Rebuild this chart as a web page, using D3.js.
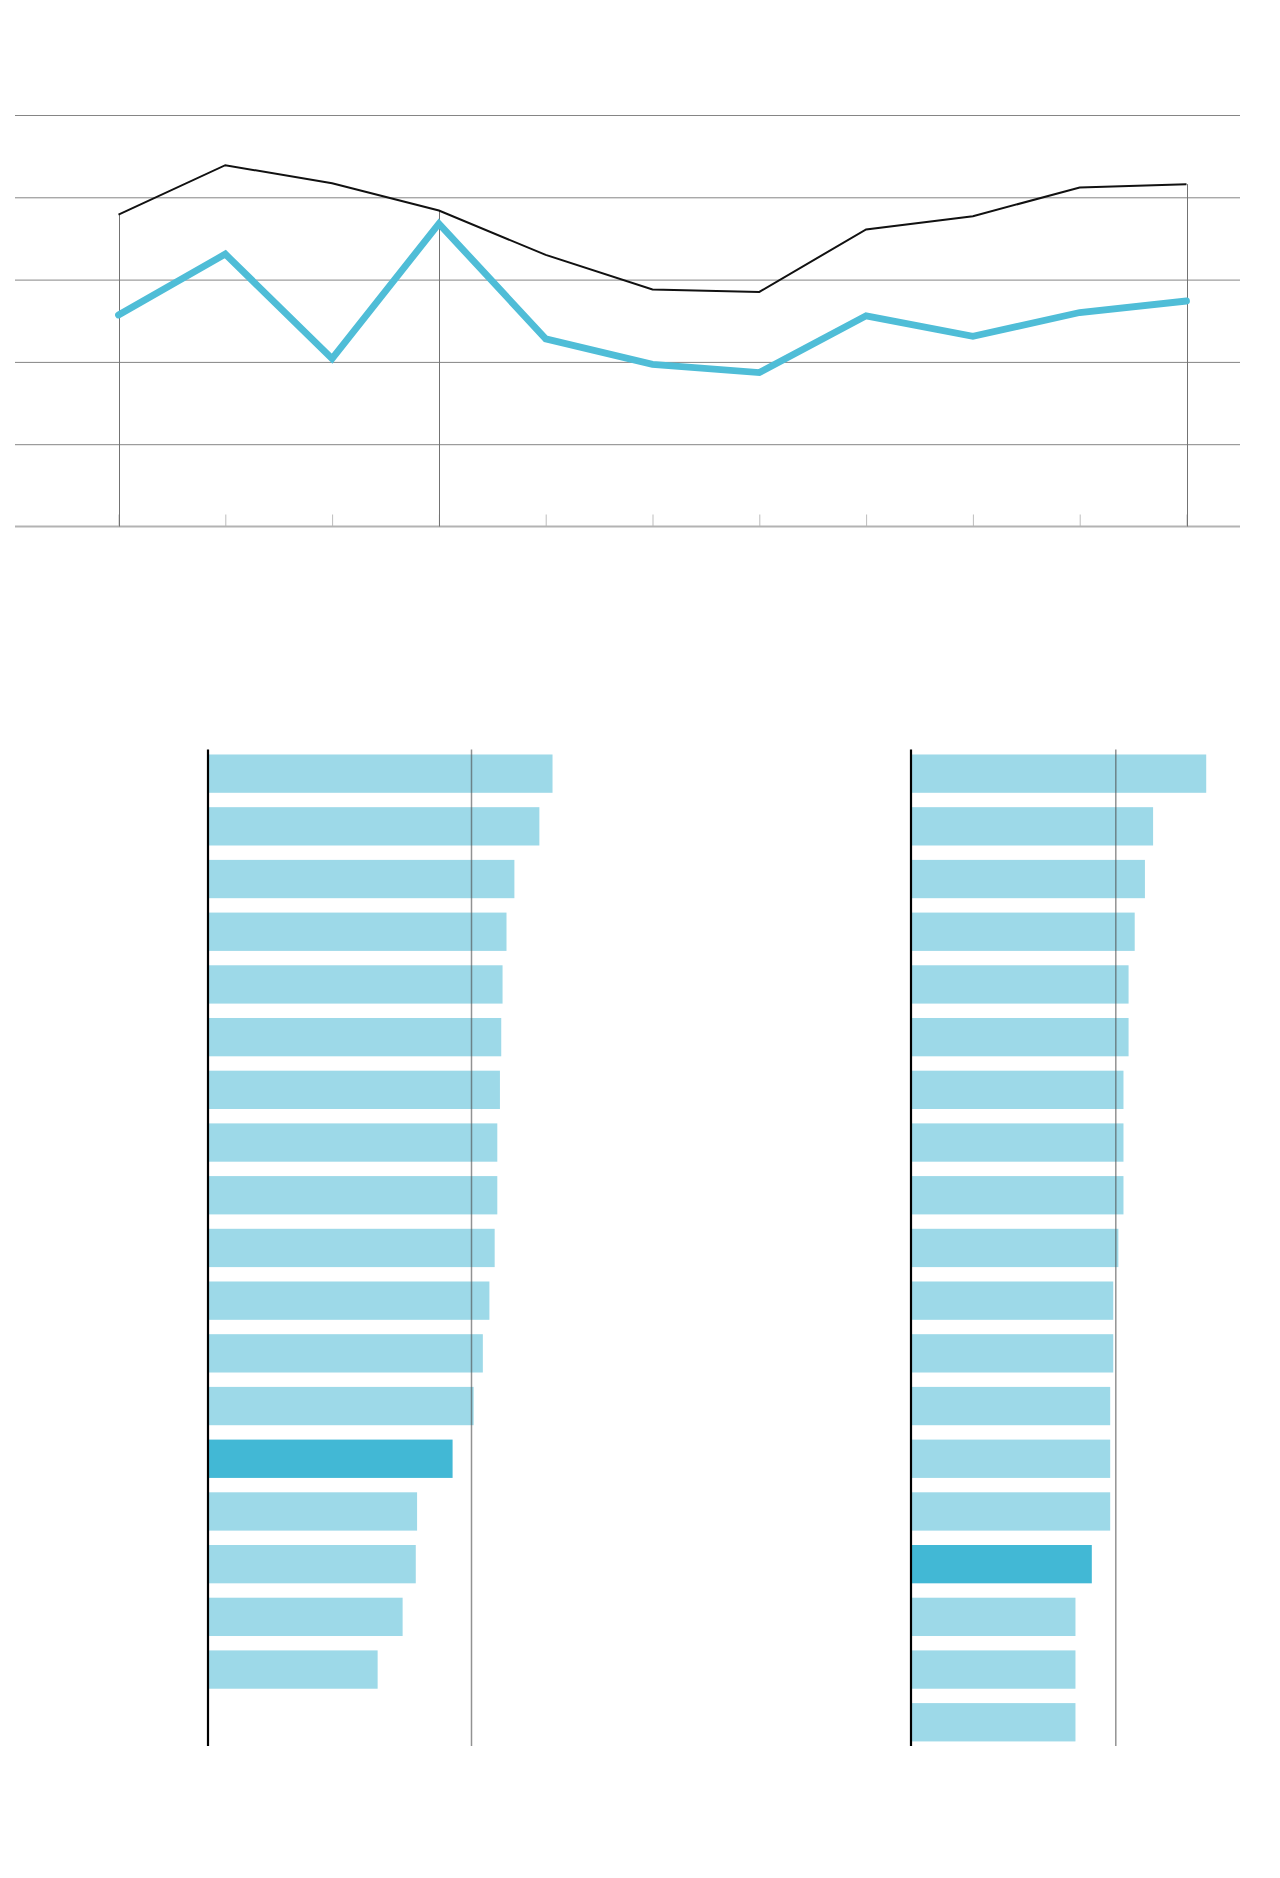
<!DOCTYPE html>
<html>
<head>
<meta charset="utf-8">
<script src="https://cdn.jsdelivr.net/npm/d3@7"></script>
<style>
  html, body { margin: 0; padding: 0; background: #ffffff; }
  svg { display: block; }
</style>
</head>
<body>
<svg id="chart" width="1280" height="1878"></svg>
<script>
// ---- Line chart data: eleven periods, two series ----
const periods = [1, 2, 3, 4, 5, 6, 7, 8, 9, 10, 11];
const seriesTotal = [37.9, 43.9, 41.7, 38.4, 33.0, 28.8, 28.5, 36.1, 37.7, 41.2, 41.6];
const seriesFocus = [25.7, 33.1, 20.4, 36.8, 22.8, 19.7, 18.7, 25.6, 23.1, 26.0, 27.4];
const lineGridTicks = [10, 20, 30, 40, 50];
const markedPeriods = [1, 4, 11];

// ---- Ranked bar charts ----
const rankSlots = [1, 2, 3, 4, 5, 6, 7, 8, 9, 10, 11, 12, 13, 14, 15, 16, 17, 18, 19];

const leftRanks = [1, 2, 3, 4, 5, 6, 7, 8, 9, 10, 11, 12, 13, 14, 15, 16, 17, 18];
const leftValues = [26.2, 25.2, 23.3, 22.7, 22.4, 22.3, 22.2, 22.0, 22.0, 21.8, 21.4, 20.9, 20.2, 18.6, 15.9, 15.8, 14.8, 12.9];
const leftHighlight = [14];
const leftReference = [20];

const rightRanks = [1, 2, 3, 4, 5, 6, 7, 8, 9, 10, 11, 12, 13, 14, 15, 16, 17, 18, 19];
const rightValues = [28.9, 23.7, 22.9, 21.9, 21.3, 21.3, 20.8, 20.8, 20.8, 20.3, 19.8, 19.8, 19.5, 19.5, 19.5, 17.7, 16.1, 16.1, 16.1];
const rightHighlight = [16];
const rightReference = [20];

const COLOR_LIGHT = "#9dd9e8";
const COLOR_DARK = "#42b8d5";
const COLOR_LINE = "#4fbdd7";

const svg = d3.select("#chart");
svg.append("rect").attr("width", 1280).attr("height", 1878).attr("fill", "#ffffff");

// ===== Line chart =====
const lineG = svg.append("g").attr("class", "line-chart");
const gridLeft = 15, gridRight = 1240;
const x = d3.scalePoint().domain(periods).range([118.5, 1186.5]);
const y = d3.scaleLinear().domain([0, 50]).range([526.5, 115]);

// horizontal gridlines
const gridAxis = lineG.append("g")
  .attr("transform", `translate(${gridLeft},0)`)
  .call(d3.axisLeft(y).tickValues(lineGridTicks).tickSize(-(gridRight - gridLeft)).tickFormat(""));
gridAxis.select(".domain").remove();
gridAxis.selectAll(".tick line").attr("stroke", "#858585").attr("stroke-width", 1);

// period ticks rising from the baseline
const periodAxis = lineG.append("g")
  .attr("transform", `translate(0,${y(0)})`)
  .call(d3.axisTop(x).tickSize(12).tickFormat(""));
periodAxis.select(".domain").remove();
periodAxis.selectAll(".tick line").attr("stroke", "#bdbdbd").attr("stroke-width", 1);

// baseline
lineG.append("line")
  .attr("x1", gridLeft).attr("x2", gridRight)
  .attr("y1", y(0)).attr("y2", y(0))
  .attr("stroke", "#b3b3b3").attr("stroke-width", 2);

// drop lines from the upper series at marked periods
lineG.selectAll("line.drop")
  .data(markedPeriods)
  .join("line")
  .attr("class", "drop")
  .attr("x1", d => Math.round(x(d)) + 0.5).attr("x2", d => Math.round(x(d)) + 0.5)
  .attr("y1", d => y(seriesTotal[periods.indexOf(d)]))
  .attr("y2", y(0))
  .attr("stroke", "#737373").attr("stroke-width", 1);

const lineGen = d3.line()
  .x((d, i) => x(periods[i]))
  .y(d => y(d));

lineG.append("path")
  .datum(seriesTotal)
  .attr("d", lineGen)
  .attr("fill", "none")
  .attr("stroke", "#111111")
  .attr("stroke-width", 2)
  .attr("stroke-linejoin", "miter");

lineG.append("path")
  .datum(seriesFocus)
  .attr("d", lineGen)
  .attr("fill", "none")
  .attr("stroke", COLOR_LINE)
  .attr("stroke-width", 6.8)
  .attr("stroke-linejoin", "miter")
  .attr("stroke-linecap", "round");

// ===== Ranked bar charts =====
const band = d3.scaleBand()
  .domain(rankSlots)
  .range([750, 1745.9])
  .paddingInner(0.273)
  .paddingOuter(0.085);

function drawRanking(ranks, values, highlight, reference, x0, xRef) {
  const g = svg.append("g");
  const xs = d3.scaleLinear().domain([0, reference[0]]).range([x0, xRef]);

  g.selectAll("rect")
    .data(ranks)
    .join("rect")
    .attr("x", xs(0) + 1)
    .attr("y", d => band(d))
    .attr("width", (d, i) => xs(values[i]) - xs(0) - 1)
    .attr("height", band.bandwidth())
    .attr("fill", d => highlight.includes(d) ? COLOR_DARK : COLOR_LIGHT);

  // reference line
  const refAxis = g.append("g")
    .attr("transform", "translate(0,749.5)")
    .call(d3.axisBottom(xs).tickValues(reference).tickSize(996.5).tickFormat(""));
  refAxis.select(".domain").remove();
  refAxis.selectAll(".tick line")
    .attr("stroke", "#4a4a4a").attr("stroke-opacity", 0.6).attr("stroke-width", 1.5);

  // value axis
  g.append("line")
    .attr("x1", xs(0)).attr("x2", xs(0))
    .attr("y1", 749.5).attr("y2", 1746)
    .attr("stroke", "#000000").attr("stroke-width", 2.2);
}

drawRanking(leftRanks, leftValues, leftHighlight, leftReference, 208, 471);
drawRanking(rightRanks, rightValues, rightHighlight, rightReference, 911, 1115.3);
</script>
</body>
</html>
